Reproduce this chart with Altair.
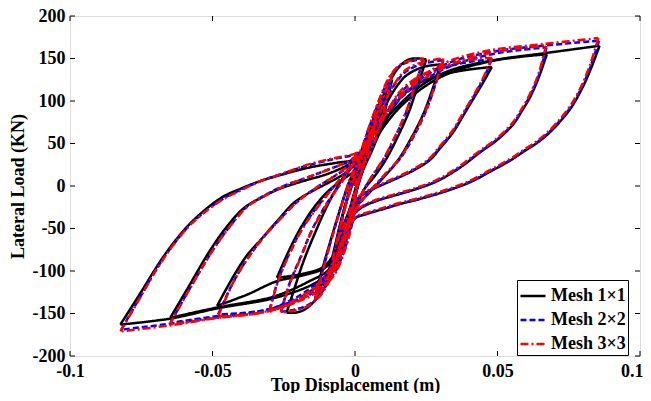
import altair as alt
import pandas as pd

SERIES = ["Mesh 1×1", "Mesh 2×2", "Mesh 3×3"]
COLORS = ["#000000", "#0000ff", "#ff0000"]
DASHES = [[1, 0], [6, 3], [8, 3, 2, 3]]
XTICKS = [-0.1, -0.05, 0, 0.05, 0.1]
YTICKS = [-200, -150, -100, -50, 0, 50, 100, 150, 200]

# Each branch: (displacement list, load list)
mesh1 = [
    ([0, 0.002, 0.004, 0.006], [0, 25, 45, 62]),
    ([0.006, 0.004, 0.002, 0, -0.002, -0.004, -0.006], [62, 35, 15, -5, -28, -45, -60]),
    ([-0.006, -0.004, -0.002, 0, 0.002, 0.005, 0.009], [-60, -30, -5, 18, 35, 65, 100]),
    ([0.009, 0.007, 0.005, 0.003, 0.001, -0.001, -0.003, -0.006, -0.009], [100, 72, 45, 22, 0, -25, -45, -75, -100]),
    ([-0.009, -0.007, -0.005, -0.003, 0, 0.002, 0.005, 0.009, 0.013], [-100, -70, -42, -18, 10, 30, 55, 90, 125]),
    ([0.013, 0.011, 0.009, 0.006, 0.003, 0.001, -0.001, -0.003, -0.006, -0.010, -0.014], [125, 95, 68, 42, 20, 0, -28, -45, -70, -105, -128]),
    ([-0.014, -0.011, -0.008, -0.005, -0.002, 0.001, 0.004, 0.008, 0.012, 0.016, 0.019, 0.022, 0.025], [-128, -92, -58, -25, 5, 28, 55, 90, 122, 142, 149, 150, 149]),
    ([0.025, 0.022, 0.019, 0.015, 0.011, 0.007, 0.003, 0.001, -0.002, -0.005, -0.0098, -0.015, -0.018, -0.021, -0.024], [149, 118, 88, 58, 32, 12, -5, -20, -40, -70, -114, -138, -146, -149, -149]),
    ([-0.024, -0.021, -0.018, -0.014, -0.010, -0.006, -0.002, 0.002, 0.006, 0.010, 0.014, 0.018, 0.024, 0.030], [-149, -118, -88, -55, -25, 0, 20, 32, 60, 90, 114, 130, 140, 143]),
    ([0.030, 0.027, 0.024, 0.020, 0.015, 0.010, 0.005, 0.001, -0.002, -0.006, -0.011, -0.018, -0.0274], [143, 112, 85, 58, 30, 10, -8, -22, -40, -72, -95, -103, -108]),
    ([-0.0274, -0.024, -0.020, -0.015, -0.010, -0.005, 0, 0.003, 0.008, 0.012, 0.016, 0.023, 0.032, 0.040, 0.048], [-108, -82, -55, -28, -8, 6, 18, 28, 58, 84, 104, 122, 132, 137, 140]),
    ([0.048, 0.045, 0.0416, 0.038, 0.0346, 0.030, 0.0264, 0.022, 0.016, 0.0113, 0.006, 0.002, 0, -0.002, -0.005, -0.010, -0.018, -0.0274, -0.038, -0.0484], [140, 122, 103, 83, 64, 45, 31, 21, 11, 4, -4, -12, -20, -36, -70, -95, -105, -112, -128, -141]),
    ([-0.0484, -0.0426, -0.038, -0.033, -0.027, -0.0215, -0.015, -0.0098, -0.004, 0.001, 0.003, 0.008, 0.015, 0.024, 0.034, 0.048, 0.058, 0.0673], [-141, -106, -82, -63, -40, -20, -6, 3, 14, 28, 35, 60, 90, 116, 134, 147, 152, 155]),
    ([0.0673, 0.0645, 0.0615, 0.0585, 0.0556, 0.0498, 0.044, 0.037, 0.029, 0.022, 0.015, 0.008, 0.003, 0, -0.002, -0.004, -0.009, -0.016, -0.0285, -0.0484, -0.0648], [155, 128, 105, 88, 73, 54, 40, 22, 6, -3, -10, -17, -24, -32, -45, -70, -98, -112, -130, -143, -155]),
    ([-0.0648, -0.059, -0.0507, -0.045, -0.039, -0.033, -0.027, -0.018, -0.0098, -0.003, 0.001, 0.0025, 0.0065, 0.0147, 0.024, 0.0334, 0.0486, 0.066, 0.0858], [-155, -122, -75, -48, -26, -14, -4, 6, 14, 24, 33, 40, 62, 93, 120, 136, 148, 156, 165]),
    ([0.0858, 0.083, 0.080, 0.076, 0.072, 0.068, 0.064, 0.0594, 0.054, 0.048, 0.0407, 0.032, 0.023, 0.016, 0.010, 0.004, 0, -0.002, -0.005, -0.009, -0.015, -0.0285, -0.0484, -0.0648, -0.0823], [165, 140, 117, 93, 76, 62, 51, 41, 29, 18, 5, -6, -15, -21, -27, -33, -38, -52, -80, -102, -116, -132, -144, -156, -163]),
    ([-0.0823, -0.0753, -0.068, -0.0625, -0.0566, -0.047, -0.040, -0.033, -0.025, -0.0157, -0.007, 0, 0.002], [-163, -126, -87, -62, -40, -14, -3, 6, 14, 22, 27, 31, 36]),
]

mesh2 = [
    ([0, 0.002, 0.004, 0.006], [0, 27, 47, 64]),
    ([0.006, 0.004, 0.002, 0, -0.002, -0.004, -0.006], [64, 37, 15, -6, -29, -47, -63]),
    ([-0.006, -0.004, -0.002, 0, 0.002, 0.005, 0.009], [-63, -32, -6, 19, 37, 69, 104]),
    ([0.009, 0.007, 0.005, 0.003, 0.001, -0.001, -0.003, -0.006, -0.009], [104, 75, 47, 24, 1, -26, -47, -79, -104]),
    ([-0.009, -0.007, -0.005, -0.003, 0, 0.002, 0.005, 0.009, 0.013], [-104, -73, -44, -19, 11, 32, 59, 95, 130]),
    ([0.013, 0.011, 0.009, 0.006, 0.003, 0.001, -0.001, -0.003, -0.006, -0.010, -0.014], [130, 99, 71, 44, 21, 1, -29, -47, -75, -110, -132]),
    ([-0.014, -0.011, -0.008, -0.005, -0.002, 0.001, 0.004, 0.008, 0.012, 0.016, 0.020, 0.024], [-132, -95, -59, -25, 5, 29, 59, 95, 126, 142, 147, 149]),
    ([0.024, 0.021, 0.018, 0.014, 0.010, 0.006, 0.003, 0.001, -0.002, -0.005, -0.009, -0.013, -0.017, -0.022, -0.026], [149, 117, 87, 57, 31, 11, -5, -21, -43, -75, -110, -131, -141, -146, -148]),
    ([-0.026, -0.023, -0.019, -0.015, -0.010, -0.005, -0.001, 0.002, 0.006, 0.010, 0.014, 0.018, 0.024, 0.031], [-148, -115, -83, -51, -21, 3, 23, 35, 63, 95, 120, 135, 144, 148]),
    ([0.031, 0.028, 0.025, 0.021, 0.016, 0.010, 0.005, 0.001, -0.002, -0.006, -0.012, -0.020, -0.030], [148, 117, 89, 61, 33, 11, -7, -23, -44, -80, -110, -130, -146]),
    ([-0.030, -0.027, -0.023, -0.018, -0.012, -0.006, -0.001, 0.003, 0.008, 0.012, 0.016, 0.023, 0.032, 0.040, 0.048], [-146, -111, -79, -47, -19, 5, 24, 37, 65, 91, 110, 128, 140, 146, 149]),
    ([0.048, 0.0449, 0.0414, 0.0377, 0.0343, 0.0297, 0.0261, 0.0217, 0.0157, 0.0111, 0.0059, 0.0019, 0, -0.002, -0.005, -0.010, -0.016, -0.022, -0.033, -0.048], [149, 125, 104, 83, 64, 45, 31, 21, 11, 4, -4, -12, -20, -40, -78, -113, -128, -136, -147, -151]),
    ([-0.048, -0.0424, -0.0368, -0.0318, -0.0258, -0.0198, -0.014, -0.008, -0.003, 0.001, 0.004, 0.009, 0.016, 0.025, 0.035, 0.048, 0.058, 0.0672], [-151, -111, -81, -59, -37, -17, -3, 10, 21, 34, 44, 73, 103, 126, 143, 155, 160, 163]),
    ([0.0672, 0.0644, 0.0614, 0.0584, 0.0554, 0.0496, 0.0438, 0.0368, 0.0288, 0.0218, 0.0148, 0.0078, 0.0029, 0, -0.001, -0.004, -0.008, -0.0146, -0.0216, -0.033, -0.048, -0.0648], [163, 129, 106, 88, 73, 54, 40, 22, 6, -3, -10, -17, -24, -32, -44, -78, -106, -122, -136, -147, -153, -161]),
    ([-0.0648, -0.0584, -0.0498, -0.0438, -0.0378, -0.0328, -0.0258, -0.016, -0.008, -0.002, 0.001, 0.004, 0.0075, 0.015, 0.024, 0.033, 0.048, 0.066, 0.0856], [-161, -123, -75, -47, -24, -13, -1, 11, 21, 29, 36, 49, 71, 102, 128, 145, 158, 165, 171]),
    ([0.0856, 0.0827, 0.0797, 0.0757, 0.0717, 0.0677, 0.0637, 0.0592, 0.0537, 0.0477, 0.0404, 0.0317, 0.0227, 0.0157, 0.0097, 0.0037, 0, -0.002, -0.0045, -0.0076, -0.0146, -0.0216, -0.033, -0.048, -0.0648, -0.0820], [171, 141, 117, 93, 76, 62, 51, 41, 29, 18, 5, -6, -15, -21, -27, -33, -38, -52, -80, -99, -121, -136, -148, -154, -162, -169]),
    ([-0.0820, -0.0753, -0.0688, -0.0628, -0.0568, -0.0468, -0.0398, -0.033, -0.025, -0.0157, -0.007, 0, 0.002], [-169, -130, -93, -65, -42, -16, -4, 6, 15, 25, 32, 37, 41]),
]

mesh3 = [
    ([0, 0.002, 0.004, 0.006], [0, 28, 48, 66]),
    ([0.006, 0.004, 0.002, 0, -0.002, -0.004, -0.006], [66, 38, 16, -6, -30, -48, -64]),
    ([-0.006, -0.004, -0.002, 0, 0.002, 0.005, 0.009], [-64, -33, -6, 20, 38, 70, 106]),
    ([0.009, 0.007, 0.005, 0.003, 0.001, -0.001, -0.003, -0.006, -0.009], [106, 76, 48, 25, 2, -27, -48, -80, -106]),
    ([-0.009, -0.007, -0.005, -0.003, 0, 0.002, 0.005, 0.009, 0.013], [-106, -74, -45, -20, 12, 33, 60, 97, 132]),
    ([0.013, 0.011, 0.009, 0.006, 0.003, 0.001, -0.001, -0.003, -0.006, -0.010, -0.014], [132, 100, 72, 45, 22, 2, -30, -48, -76, -112, -134]),
    ([-0.014, -0.011, -0.008, -0.005, -0.002, 0.001, 0.004, 0.008, 0.012, 0.016, 0.020, 0.024], [-134, -96, -60, -26, 6, 30, 60, 97, 128, 143, 148, 150]),
    ([0.024, 0.021, 0.018, 0.014, 0.010, 0.006, 0.003, 0.001, -0.002, -0.005, -0.009, -0.013, -0.017, -0.022, -0.026], [150, 118, 88, 58, 32, 12, -5, -22, -44, -76, -112, -132, -142, -147, -149]),
    ([-0.026, -0.023, -0.019, -0.015, -0.010, -0.005, -0.001, 0.002, 0.006, 0.010, 0.014, 0.018, 0.024, 0.031], [-149, -116, -84, -52, -22, 3, 24, 36, 64, 96, 121, 137, 146, 150]),
    ([0.031, 0.028, 0.025, 0.021, 0.016, 0.010, 0.005, 0.001, -0.002, -0.006, -0.012, -0.020, -0.030], [150, 118, 90, 62, 34, 12, -7, -24, -45, -82, -112, -132, -148]),
    ([-0.030, -0.027, -0.023, -0.018, -0.012, -0.006, -0.001, 0.003, 0.008, 0.012, 0.016, 0.023, 0.032, 0.040, 0.048], [-148, -112, -80, -48, -20, 5, 25, 38, 66, 92, 112, 130, 142, 148, 151]),
    ([0.048, 0.0448, 0.0413, 0.0376, 0.0342, 0.0296, 0.026, 0.0216, 0.0156, 0.011, 0.0058, 0.0018, 0, -0.002, -0.005, -0.010, -0.016, -0.022, -0.033, -0.048], [151, 126, 105, 84, 65, 46, 32, 22, 12, 5, -3, -11, -19, -40, -80, -115, -130, -138, -149, -153]),
    ([-0.048, -0.0425, -0.037, -0.032, -0.026, -0.020, -0.014, -0.008, -0.003, 0.001, 0.004, 0.009, 0.016, 0.025, 0.035, 0.048, 0.058, 0.067], [-153, -112, -82, -60, -38, -18, -3, 10, 22, 35, 45, 75, 105, 128, 145, 157, 162, 165]),
    ([0.067, 0.0642, 0.0612, 0.0582, 0.0552, 0.0494, 0.0436, 0.0366, 0.0286, 0.0216, 0.0146, 0.0076, 0.0028, 0, -0.001, -0.004, -0.008, -0.0146, -0.0216, -0.033, -0.048, -0.065], [165, 130, 107, 89, 74, 55, 41, 23, 7, -2, -9, -16, -23, -31, -45, -80, -108, -124, -138, -149, -155, -163]),
    ([-0.065, -0.0585, -0.050, -0.044, -0.038, -0.033, -0.026, -0.016, -0.008, -0.002, 0.001, 0.004, 0.0075, 0.015, 0.024, 0.033, 0.048, 0.066, 0.0854], [-163, -124, -76, -48, -25, -14, -2, 11, 21, 30, 37, 50, 72, 104, 130, 147, 160, 167, 174]),
    ([0.0854, 0.0824, 0.0795, 0.0755, 0.0715, 0.0675, 0.0635, 0.059, 0.0535, 0.0475, 0.0402, 0.0315, 0.0225, 0.0155, 0.0095, 0.0035, 0, -0.002, -0.0045, -0.0076, -0.0146, -0.0216, -0.033, -0.048, -0.065, -0.0823], [174, 142, 118, 94, 77, 63, 52, 42, 30, 19, 6, -5, -14, -20, -26, -32, -37, -52, -82, -100, -122, -137, -149, -155, -164, -171]),
    ([-0.0823, -0.0755, -0.069, -0.063, -0.057, -0.047, -0.040, -0.033, -0.025, -0.0157, -0.007, 0, 0.002], [-171, -132, -95, -66, -43, -17, -5, 6, 15, 26, 33, 38, 42]),
]

rows = []
for name, branches in zip(SERIES, [mesh1, mesh2, mesh3]):
    for b, (xs, ys) in enumerate(branches):
        for i, (xv, yv) in enumerate(zip(xs, ys)):
            rows.append({"series": name, "branch": f"{name}-{b}", "idx": i, "x": xv, "y": yv})
df = pd.DataFrame(rows)

W, H = 570, 340
FONT = "Liberation Serif"

xscale = alt.Scale(domain=[-0.1, 0.1], nice=False, zero=False)
yscale = alt.Scale(domain=[-200, 200], nice=False, zero=False)

label_expr = "datum.value < 0 ? '-' + format(-datum.value, '') : format(datum.value, '')"
common_axis = dict(grid=False, domain=False, ticks=False,
                   labelFont=FONT, labelFontSize=18, labelFontWeight="bold", labelColor="black",
                   titleFont=FONT, titleFontSize=18, titleFontWeight="bold", titleColor="black",
                   labelFlush=False, labelOverlap=False, labelExpr=label_expr)
xaxis = alt.Axis(values=XTICKS, title="Top Displacement (m)", labelPadding=6, titlePadding=-4,
                 labelAlign={"condition": {"test": "datum.value > 0.09", "value": "right"}, "value": "center"},
                 labelOffset={"condition": {"test": "datum.value > 0.09", "value": 3}, "value": 0},
                 **common_axis)
yaxis = alt.Axis(values=YTICKS, title="Lateral Load (KN)", labelPadding=5, titlePadding=5, **common_axis)

legend_def = alt.Legend(title=None, orient="none", legendX=447, legendY=264,
                        fillColor="white", strokeColor="black", padding=2, cornerRadius=0,
                        labelFont=FONT, labelFontSize=18, labelFontWeight="bold", labelColor="black",
                        symbolType="stroke", symbolSize=625, symbolStrokeWidth=2.5,
                        rowPadding=1, labelOffset=4)

color_scale = alt.Scale(domain=SERIES, range=COLORS)
dash_scale = alt.Scale(domain=SERIES, range=DASHES)


def series_layer(name):
    return alt.Chart(df).transform_filter(alt.datum.series == name).mark_line(
        strokeWidth=2.5, interpolate="catmull-rom"
    ).encode(
        x=alt.X("x:Q", scale=xscale, axis=xaxis),
        y=alt.Y("y:Q", scale=yscale, axis=yaxis),
        color=alt.Color("series:N", scale=color_scale, legend=legend_def),
        strokeDash=alt.StrokeDash("series:N", scale=dash_scale, legend=legend_def),
        detail="branch:N",
        order="idx:Q",
    )


xt = pd.DataFrame({"x": XTICKS})
yt = pd.DataFrame({"y": YTICKS})
tick_bottom = alt.Chart(xt).mark_rule(color="black", strokeWidth=1).encode(
    x=alt.X("x:Q", scale=xscale, axis=xaxis), y=alt.value(H), y2=alt.value(H - 5))
tick_top = alt.Chart(xt).mark_rule(color="black", strokeWidth=1).encode(
    x=alt.X("x:Q", scale=xscale, axis=xaxis), y=alt.value(0), y2=alt.value(5))
tick_left = alt.Chart(yt).mark_rule(color="black", strokeWidth=1).encode(
    y=alt.Y("y:Q", scale=yscale, axis=yaxis), x=alt.value(0), x2=alt.value(5))
tick_right = alt.Chart(yt).mark_rule(color="black", strokeWidth=1).encode(
    y=alt.Y("y:Q", scale=yscale, axis=yaxis), x=alt.value(W), x2=alt.value(W - 5))

chart = alt.layer(
    series_layer(SERIES[0]), series_layer(SERIES[1]), series_layer(SERIES[2]),
    tick_bottom, tick_top, tick_left, tick_right,
).properties(
    width=W, height=H,
    autosize=alt.AutoSizeParams(type="none"),
    padding={"left": 62, "top": 8, "right": 3, "bottom": 37},
).configure_view(stroke="black", strokeWidth=1.2).configure(background="white")

chart.save("out.html", embed_options={"renderer": "svg", "actions": False})
